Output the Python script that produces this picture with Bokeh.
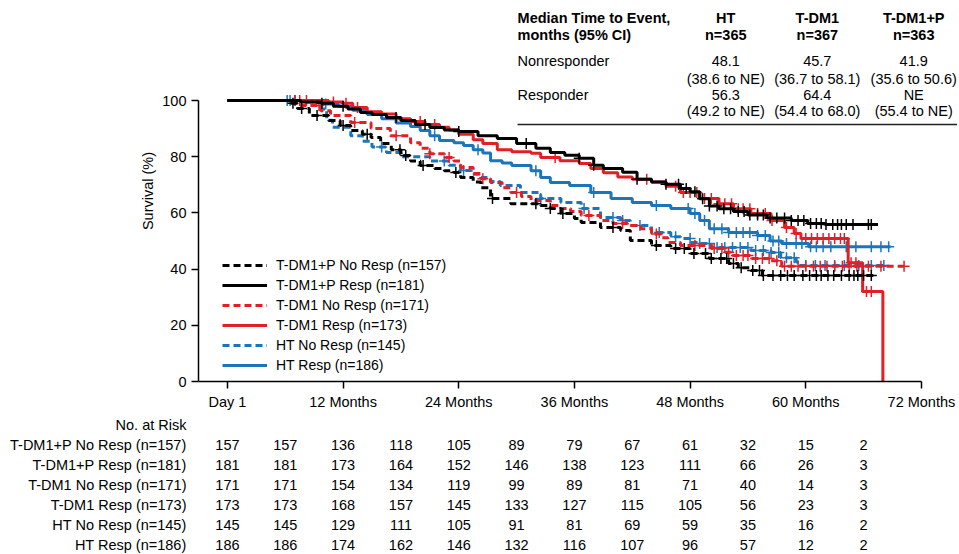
import numpy as np
from bokeh.plotting import figure
from bokeh.models import (ColumnDataSource, FixedTicker, Range1d, FactorRange,
                          Legend, LegendItem)
from bokeh.layouts import column
from bokeh.embed import file_html
from bokeh.resources import INLINE
from bokeh.core.properties import value

FONT = "Liberation Sans"
FS = "14.5px"
FS_LEG = "14px"

# ---------------- data ----------------
month_ticks = [0, 12, 24, 36, 48, 60, 72]
month_tick_labels = ["Day 1", "12 Months", "24 Months", "36 Months",
                     "48 Months", "60 Months", "72 Months"]
surv_ticks = [0, 20, 40, 60, 80, 100]

# T-DM1+P No Resp
tdm1p_nr_t = [0, 6.5, 7.3, 8.5, 10.5, 11.7, 12.8, 14.0, 14.9, 15.9, 17.0, 18.0, 19.0, 20.0,
              21.5, 22.5, 23.5, 24.2, 25.5, 26.3, 27.3, 29.4, 32.5, 33.5, 34.6, 36.0, 36.7,
              38.7, 40.8, 41.8, 44.0, 46.0, 48.0, 50.0, 52.0, 53.0, 54.3, 55.5, 67.1]
tdm1p_nr_s = [100, 99.0, 97.2, 94.7, 92.9, 91.1, 89.3, 88.0, 86.8, 84.7, 82.5, 80.4, 78.5, 76.9,
              75.8, 75.0, 74.4, 72.6, 71.0, 69.0, 65.1, 63.3, 62.6, 61.6, 59.8, 58.0, 56.6,
              54.8, 53.7, 50.2, 48.4, 47.3, 45.6, 43.8, 42.0, 40.5, 39.5, 37.7, 37.7]
tdm1p_nr_cens = [6.8, 7.7, 9.3, 12.0, 14.5, 17.9, 18.5, 20.3, 23.7, 27.5, 32.0, 33.5, 34.8,
                 40.0, 44.5, 46.5, 47.4, 48.4, 49.6, 50.2, 51.2, 51.8, 52.5, 53.3, 54.5, 55.2,
                 55.6, 56.6, 57.4, 58.1, 58.8, 59.7, 60.4, 61.1, 61.6, 62.3, 62.9, 63.7, 64.5,
                 65.0, 65.4, 66.0, 66.8]

# T-DM1+P Resp
tdm1p_r_t = [0, 7.6, 9.7, 11.0, 12.5, 13.8, 15.0, 16.5, 18.0, 19.5, 21.0, 22.5, 24.0, 26.0,
             28.0, 30.0, 32.0, 33.5, 35.0, 36.5, 38.0, 39.0, 41.0, 42.5, 44.0, 45.5, 47.0,
             48.0, 49.0, 50.0, 51.0, 52.5, 54.0, 56.0, 58.5, 60.2, 62.0, 67.5]
tdm1p_r_s = [100, 99.5, 99.0, 98.0, 97.0, 95.7, 95.0, 94.0, 92.9, 91.5, 90.4, 89.5, 89.0, 87.5,
             86.5, 84.7, 83.0, 81.5, 80.5, 79.5, 77.0, 75.8, 74.5, 72.0, 71.0, 70.2, 68.7,
             67.5, 65.0, 62.5, 61.5, 60.5, 59.3, 58.2, 57.3, 56.2, 55.9, 55.9]
tdm1p_r_cens = [9.8, 12.0, 17.5, 20.5, 24.0, 31.0, 36.5, 38.0, 42.5, 45.5, 46.8, 47.6, 48.5,
                49.3, 50.0, 50.8, 51.5, 52.2, 53.0, 53.6, 54.2, 55.0, 55.6, 56.3, 57.0, 57.8,
                58.5, 59.2, 59.8, 60.5, 61.1, 61.6, 62.1, 62.8, 63.3, 63.7, 64.2, 64.9, 66.5,
                66.8]

# T-DM1 No Resp
tdm1_nr_t = [0, 7.6, 9.7, 10.7, 12.8, 14.9, 16.9, 19.0, 20.0, 21.0, 22.5, 23.5, 24.2, 25.5,
             26.3, 27.3, 28.5, 29.4, 30.5, 31.5, 33.5, 34.6, 35.6, 36.7, 38.7, 40.0, 41.5,
             42.9, 44.0, 45.0, 45.7, 47.0, 50.2, 51.5, 52.2, 54.3, 56.4, 57.5, 70.2]
tdm1_nr_s = [100, 98.2, 96.4, 94.7, 92.2, 90.0, 87.5, 85.0, 83.0, 81.1, 79.7, 78.5, 76.2, 74.0,
             72.2, 70.8, 69.0, 67.3, 65.8, 64.4, 62.6, 61.6, 60.5, 59.1, 57.3, 56.2, 55.5,
             54.4, 52.5, 51.2, 49.5, 48.4, 47.3, 46.0, 44.8, 43.8, 43.0, 41.0, 41.0]
tdm1_nr_cens = [7.0, 9.5, 13.2, 17.5, 21.0, 23.0, 26.5, 30.0, 37.5, 41.0, 44.5, 48.5, 50.5,
                51.3, 52.0, 52.8, 53.5, 54.0, 54.8, 55.5, 56.2, 57.0, 57.8, 58.5, 59.2, 60.0,
                60.8, 61.5, 62.2, 63.0, 63.8, 64.5, 65.3, 66.5, 67.8, 70.2]

# T-DM1 Resp
tdm1_r_t = [0, 10.5, 12.0, 13.0, 14.5, 16.0, 17.5, 19.0, 20.5, 22.0, 23.0, 24.0, 25.5, 26.5,
            28.0, 29.5, 31.5, 32.5, 34.5, 36.5, 37.7, 39.0, 40.5, 42.0, 44.0, 45.5, 47.0,
            49.0, 51.0, 52.5, 54.3, 56.4, 57.8, 58.8, 59.5, 64.4, 65.9, 68.0]
tdm1_r_s = [100, 99.5, 99.0, 97.5, 96.0, 95.2, 93.5, 92.5, 91.5, 90.5, 89.5, 88.0, 86.0, 84.7,
            82.5, 81.8, 81.2, 79.7, 78.6, 77.6, 75.8, 74.3, 72.8, 72.0, 71.0, 69.5, 67.3,
            65.1, 63.3, 61.5, 59.8, 57.3, 54.8, 52.7, 50.9, 42.3, 32.0, 0]
tdm1_r_cens = [7.5, 8.2, 11.0, 12.3, 13.5, 20.0, 21.5, 34.0, 43.5, 46.5, 47.3, 48.0, 48.7,
               49.5, 50.2, 51.0, 51.6, 52.3, 53.0, 53.5, 54.2, 55.0, 55.8, 56.5, 58.0, 59.0,
               60.0, 60.6, 61.2, 61.8, 62.4, 63.0, 63.6, 64.0, 64.7, 65.2, 66.3, 66.8]

# HT No Resp
ht_nr_t = [0, 9.7, 10.3, 10.9, 12.8, 14.0, 15.0, 16.5, 18.0, 21.0, 23.0, 24.2, 25.3, 26.3,
           27.3, 28.3, 30.4, 32.5, 34.6, 36.7, 38.7, 40.8, 41.8, 44.0, 46.0, 47.0, 48.1,
           49.0, 50.2, 54.3, 56.4, 57.4, 59.0, 59.5, 68.1]
ht_nr_s = [100, 97.0, 93.0, 90.5, 87.5, 85.5, 83.5, 81.5, 80.0, 78.5, 77.0, 75.1, 73.8, 72.6,
           71.2, 69.8, 67.3, 65.1, 63.7, 61.6, 58.4, 57.3, 55.5, 53.0, 51.5, 50.9, 49.5,
           49.1, 47.7, 46.6, 45.9, 44.0, 42.5, 41.3, 41.3]
ht_nr_cens = [6.2, 7.0, 16.0, 22.5, 24.5, 32.5, 37.0, 40.0, 41.0, 42.8, 44.8, 46.5, 48.0,
              49.0, 50.0, 50.8, 51.6, 52.4, 53.2, 54.0, 54.8, 55.6, 56.4, 57.2, 58.0, 58.8,
              60.0, 61.0, 62.0, 63.0, 64.0, 65.5, 66.8, 68.1]

# HT Resp
ht_r_t = [0, 8.0, 10.0, 11.5, 13.0, 14.5, 16.0, 17.5, 19.0, 20.0, 21.0, 22.0, 23.5, 24.5,
          25.5, 26.5, 27.3, 28.5, 29.5, 31.5, 32.5, 33.5, 35.5, 37.7, 39.8, 42.0, 44.0,
          46.0, 48.0, 49.0, 50.0, 52.0, 55.0, 56.3, 57.5, 60.3, 68.8]
ht_r_s = [100, 99.5, 98.8, 98.0, 96.5, 95.0, 93.5, 92.0, 90.8, 89.3, 87.5, 85.8, 85.0, 84.0,
          82.5, 81.3, 78.6, 77.8, 76.9, 75.0, 72.6, 70.8, 69.8, 67.3, 65.1, 63.7, 62.6,
          61.6, 59.8, 57.3, 54.4, 53.0, 52.0, 50.0, 49.1, 48.0, 48.0]
ht_r_cens = [6.5, 7.0, 10.2, 21.5, 26.0, 32.0, 38.0, 44.5, 47.8, 48.5, 49.5, 50.5, 51.3,
             52.0, 52.8, 53.5, 54.2, 55.0, 55.8, 56.6, 57.2, 58.0, 59.0, 59.6, 60.5, 61.1,
             61.8, 62.6, 64.2, 65.2, 66.8, 67.8, 68.6]

# number at risk
risk_times = [0, 6, 12, 18, 24, 30, 36, 42, 48, 54, 60, 66]
risk_labels = ["T-DM1+P No Resp (n=157)", "T-DM1+P Resp (n=181)", "T-DM1 No Resp (n=171)",
               "T-DM1 Resp (n=173)", "HT No Resp (n=145)", "HT Resp (n=186)"]
risk_tdm1p_nr = [157, 157, 136, 118, 105, 89, 79, 67, 61, 32, 15, 2]
risk_tdm1p_r = [181, 181, 173, 164, 152, 146, 138, 123, 111, 66, 26, 3]
risk_tdm1_nr = [171, 171, 154, 134, 119, 99, 89, 81, 71, 40, 14, 3]
risk_tdm1_r = [173, 173, 168, 157, 145, 133, 127, 115, 105, 56, 23, 3]
risk_ht_nr = [145, 145, 129, 111, 105, 91, 81, 69, 59, 35, 16, 2]
risk_ht_r = [186, 186, 174, 162, 146, 132, 116, 107, 96, 57, 12, 2]

# median table
table_cols = ["HT", "T-DM1", "T-DM1+P"]
table_n = ["n=365", "n=367", "n=363"]
nonresp_median = ["48.1", "45.7", "41.9"]
nonresp_ci = ["(38.6 to NE)", "(36.7 to 58.1)", "(35.6 to 50.6)"]
resp_median = ["56.3", "64.4", "NE"]
resp_ci = ["(49.2 to NE)", "(54.4 to 68.0)", "(55.4 to NE)"]

# ---------------- styles ----------------
BLACK = "#000000"
RED = "#E31F26"
BLUE = "#1B75BB"
DASH = "7 4"

# ---------------- main figure ----------------
x_range = Range1d(-3, 75.95)
p = figure(width=959, height=414, x_range=x_range, y_range=Range1d(0, 135.6),
           output_backend="svg", toolbar_location=None, title=None,
           min_border_left=198, min_border_right=0, min_border_top=0, min_border_bottom=33)
p.outline_line_color = None
p.grid.visible = False
p.background_fill_color = None
p.border_fill_color = None

for ax in (p.xaxis[0], p.yaxis[0]):
    ax.axis_line_width = 1.5
    ax.axis_line_color = BLACK
    ax.major_tick_line_width = 1.5
    ax.major_tick_line_color = BLACK
    ax.major_tick_in = 0
    ax.major_tick_out = 7
    ax.minor_tick_line_color = None
    ax.major_label_text_font = FONT
    ax.major_label_text_font_size = FS
    ax.major_label_text_color = BLACK
    ax.major_label_standoff = 5

p.xaxis.ticker = FixedTicker(ticks=month_ticks)
p.xaxis.major_label_overrides = {t: l for t, l in zip(month_ticks, month_tick_labels)}
p.xaxis.bounds = (-3, 72)
p.yaxis.ticker = FixedTicker(ticks=surv_ticks)
p.yaxis.bounds = (0, 100)
p.yaxis.axis_label = "Survival (%)"
p.yaxis.axis_label_text_font = FONT
p.yaxis.axis_label_text_font_size = FS
p.yaxis.axis_label_text_font_style = "normal"
p.yaxis.axis_label_text_color = BLACK
p.yaxis.axis_label_standoff = 3


def surv_at(t, s, c):
    t = np.asarray(t, dtype=float)
    s = np.asarray(s, dtype=float)
    idx = np.searchsorted(t, np.asarray(c, dtype=float), side="right") - 1
    return s[np.clip(idx, 0, len(s) - 1)]


curves = [
    ("HT Resp (n=186)", ht_r_t, ht_r_s, ht_r_cens, BLUE, None),
    ("HT No Resp (n=145)", ht_nr_t, ht_nr_s, ht_nr_cens, BLUE, DASH),
    ("T-DM1 Resp (n=173)", tdm1_r_t, tdm1_r_s, tdm1_r_cens, RED, None),
    ("T-DM1 No Resp (n=171)", tdm1_nr_t, tdm1_nr_s, tdm1_nr_cens, RED, DASH),
    ("T-DM1+P Resp (n=181)", tdm1p_r_t, tdm1p_r_s, tdm1p_r_cens, BLACK, None),
    ("T-DM1+P No Resp (n=157)", tdm1p_nr_t, tdm1p_nr_s, tdm1p_nr_cens, BLACK, DASH),
]

renderers = {}
for name, t, s, cens, col, dash in curves:
    kw = dict(line_color=col, line_width=3)
    if dash:
        kw["line_dash"] = dash
    r = p.step(x=t, y=s, mode="after", **kw)
    renderers[name] = r
    p.scatter(x=cens, y=surv_at(t, s, cens), marker="cross", size=11,
              line_color=col, line_width=1.5)

legend_order = ["T-DM1+P No Resp (n=157)", "T-DM1+P Resp (n=181)", "T-DM1 No Resp (n=171)",
                "T-DM1 Resp (n=173)", "HT No Resp (n=145)", "HT Resp (n=186)"]
legend = Legend(items=[LegendItem(label=n, renderers=[renderers[n]]) for n in legend_order],
                location=(24, 6), orientation="vertical", padding=0, margin=0, spacing=0,
                glyph_width=45, glyph_height=20, label_height=20, label_standoff=9,
                border_line_color=None, background_fill_alpha=0,
                label_text_font=FONT, label_text_font_size=FS_LEG, label_text_color=BLACK)
p.add_layout(legend)

# ---------------- median table (placed in the plot's coordinates) ----------------
TX_LEFT = 30.1
TX_COLS = [51.7, 61.2, 71.2]
TX_RIGHT = 75.7
Y_H1, Y_H2 = 129.5, 123.3
Y_NR1, Y_NR2 = 113.9, 107.8
Y_R1, Y_R2 = 101.8, 96.1
Y_RULE = 91.5

txt = dict(text_font=value(FONT), text_font_size=value(FS), text_color=BLACK,
           text_baseline="middle")
p.text(x=[TX_LEFT, TX_LEFT], y=[Y_H1, Y_H2],
       text=["Median Time to Event,", "months (95% CI)"],
       text_align="left", text_font_style="bold", **txt)
p.text(x=TX_COLS * 2, y=[Y_H1] * 3 + [Y_H2] * 3, text=table_cols + table_n,
       text_align="center", text_font_style="bold", **txt)
p.text(x=[TX_LEFT, TX_LEFT], y=[Y_NR1, Y_R1], text=["Nonresponder", "Responder"],
       text_align="left", **txt)
p.text(x=TX_COLS * 4, y=[Y_NR1] * 3 + [Y_NR2] * 3 + [Y_R1] * 3 + [Y_R2] * 3,
       text=nonresp_median + nonresp_ci + resp_median + resp_ci,
       text_align="center", **txt)
p.segment(x0=[TX_LEFT], y0=[Y_RULE], x1=[TX_RIGHT], y1=[Y_RULE],
          line_color="#222222", line_width=1.5)

# ---------------- number at risk ----------------
header = "No. at Risk"
factors = [header] + risk_labels
p2 = figure(width=959, height=140, x_range=x_range,
            y_range=FactorRange(factors=list(reversed(factors))),
            x_axis_location=None, output_backend="svg", toolbar_location=None, title=None,
            min_border_left=198, min_border_right=0, min_border_top=0, min_border_bottom=0)
p2.outline_line_color = None
p2.grid.visible = False
p2.background_fill_color = None
p2.border_fill_color = None
ya = p2.yaxis[0]
ya.axis_line_color = None
ya.major_tick_line_color = None
ya.minor_tick_line_color = None
ya.major_tick_out = 0
ya.major_tick_in = 0
ya.major_label_standoff = 12
ya.major_label_text_font = FONT
ya.major_label_text_font_size = FS
ya.major_label_text_color = BLACK

risk_rows = [risk_tdm1p_nr, risk_tdm1p_r, risk_tdm1_nr, risk_tdm1_r, risk_ht_nr, risk_ht_r]
rx, ry, rt = [], [], []
for lab, row in zip(risk_labels, risk_rows):
    for t, n in zip(risk_times, row):
        rx.append(t)
        ry.append(lab)
        rt.append(str(n))
src = ColumnDataSource(dict(x=rx, y=ry, text=rt))
p2.text(x="x", y="y", text="text", source=src, text_align="center", **txt)

layout = column(p, p2, spacing=0)
open("out.html", "w").write(file_html(layout, INLINE))
